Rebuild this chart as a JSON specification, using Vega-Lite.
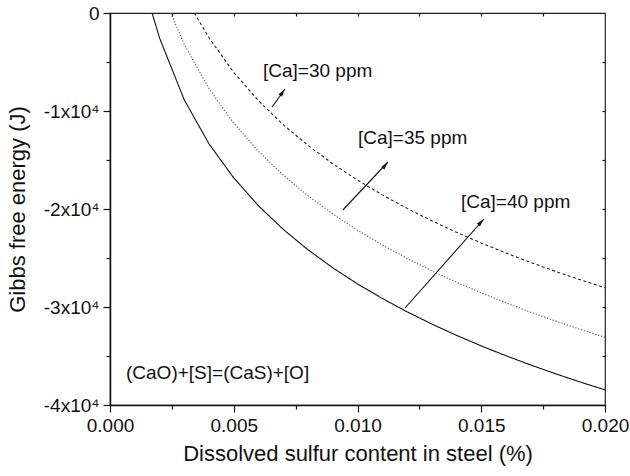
{
  "$schema": "https://vega.github.io/schema/vega-lite/v6.json",
  "width": 495,
  "height": 392,
  "autosize": "none",
  "padding": {"left": 110, "top": 13, "right": 25, "bottom": 71},
  "background": "white",
  "config": {
    "view": {"stroke": "#222", "strokeWidth": 1.2},
    "font": "Liberation Sans",
    "axis": {"grid": false, "labelFont": "Liberation Sans", "titleFont": "Liberation Sans", "labelColor": "#111", "titleColor": "#111", "domainColor": "#111", "tickColor": "#111", "labelFontSize": 19, "titleFontSize": 22, "titleFontWeight": "normal", "labelFlush": false, "labelOverlap": false, "domainWidth": 1.5, "tickWidth": 1.2}
  },
  "datasets": {
    "curves": [
      {"s": 0.0017, "g": 0, "ca": "40 ppm"},
      {"s": 0.002, "g": -2535, "ca": "40 ppm"},
      {"s": 0.003, "g": -8861, "ca": "40 ppm"},
      {"s": 0.004, "g": -13349, "ca": "40 ppm"},
      {"s": 0.005, "g": -16829, "ca": "40 ppm"},
      {"s": 0.006, "g": -19673, "ca": "40 ppm"},
      {"s": 0.007, "g": -22079, "ca": "40 ppm"},
      {"s": 0.008, "g": -24161, "ca": "40 ppm"},
      {"s": 0.009, "g": -25999, "ca": "40 ppm"},
      {"s": 0.010, "g": -27643, "ca": "40 ppm"},
      {"s": 0.011, "g": -29130, "ca": "40 ppm"},
      {"s": 0.012, "g": -30487, "ca": "40 ppm"},
      {"s": 0.013, "g": -31735, "ca": "40 ppm"},
      {"s": 0.014, "g": -32891, "ca": "40 ppm"},
      {"s": 0.015, "g": -33967, "ca": "40 ppm"},
      {"s": 0.016, "g": -34975, "ca": "40 ppm"},
      {"s": 0.017, "g": -35921, "ca": "40 ppm"},
      {"s": 0.018, "g": -36811, "ca": "40 ppm"},
      {"s": 0.019, "g": -37655, "ca": "40 ppm"},
      {"s": 0.020, "g": -38455, "ca": "40 ppm"},
      {"s": 0.00245, "g": 0, "ca": "35 ppm"},
      {"s": 0.003, "g": -3192, "ca": "35 ppm"},
      {"s": 0.004, "g": -7727, "ca": "35 ppm"},
      {"s": 0.005, "g": -11243, "ca": "35 ppm"},
      {"s": 0.006, "g": -14116, "ca": "35 ppm"},
      {"s": 0.007, "g": -16545, "ca": "35 ppm"},
      {"s": 0.008, "g": -18649, "ca": "35 ppm"},
      {"s": 0.009, "g": -20505, "ca": "35 ppm"},
      {"s": 0.010, "g": -22166, "ca": "35 ppm"},
      {"s": 0.011, "g": -23668, "ca": "35 ppm"},
      {"s": 0.012, "g": -25039, "ca": "35 ppm"},
      {"s": 0.013, "g": -26302, "ca": "35 ppm"},
      {"s": 0.014, "g": -27470, "ca": "35 ppm"},
      {"s": 0.015, "g": -28557, "ca": "35 ppm"},
      {"s": 0.016, "g": -29574, "ca": "35 ppm"},
      {"s": 0.017, "g": -30529, "ca": "35 ppm"},
      {"s": 0.018, "g": -31430, "ca": "35 ppm"},
      {"s": 0.019, "g": -32283, "ca": "35 ppm"},
      {"s": 0.020, "g": -33091, "ca": "35 ppm"},
      {"s": 0.00341, "g": 0, "ca": "30 ppm"},
      {"s": 0.004, "g": -2529, "ca": "30 ppm"},
      {"s": 0.005, "g": -6065, "ca": "30 ppm"},
      {"s": 0.006, "g": -8954, "ca": "30 ppm"},
      {"s": 0.007, "g": -11396, "ca": "30 ppm"},
      {"s": 0.008, "g": -13511, "ca": "30 ppm"},
      {"s": 0.009, "g": -15378, "ca": "30 ppm"},
      {"s": 0.010, "g": -17048, "ca": "30 ppm"},
      {"s": 0.011, "g": -18558, "ca": "30 ppm"},
      {"s": 0.012, "g": -19936, "ca": "30 ppm"},
      {"s": 0.013, "g": -21204, "ca": "30 ppm"},
      {"s": 0.014, "g": -22380, "ca": "30 ppm"},
      {"s": 0.015, "g": -23471, "ca": "30 ppm"},
      {"s": 0.016, "g": -24493, "ca": "30 ppm"},
      {"s": 0.017, "g": -25455, "ca": "30 ppm"},
      {"s": 0.018, "g": -26361, "ca": "30 ppm"},
      {"s": 0.019, "g": -27217, "ca": "30 ppm"},
      {"s": 0.020, "g": -28030, "ca": "30 ppm"}
    ],
    "arrows": [
      {"ca": "30 ppm", "x": 0.00655, "y": -9592, "x2": 0.00707, "y2": -7755},
      {"ca": "35 ppm", "x": 0.00941, "y": -20102, "x2": 0.01123, "y2": -15204},
      {"ca": "40 ppm", "x": 0.01192, "y": -30102, "x2": 0.01511, "y2": -21020}
    ],
    "labels": [
      {"x": 0.00618, "y": -5918, "text": "[Ca]=30 ppm"},
      {"x": 0.01002, "y": -12755, "text": "[Ca]=35 ppm"},
      {"x": 0.01418, "y": -19286, "text": "[Ca]=40 ppm"},
      {"x": 0.000646, "y": -36735, "text": "(CaO)+[S]=(CaS)+[O]"}
    ]
  },
  "resolve": {"axis": {"x": "independent", "y": "independent"}},
  "layer": [
    {
      "data": {"name": "curves"},
      "mark": {"type": "line", "strokeWidth": 1.1, "clip": true},
      "encoding": {
        "x": {"field": "s", "type": "quantitative", "scale": {"domain": [0, 0.02], "nice": false, "zero": false},
          "axis": {"orient": "bottom", "title": "Dissolved sulfur content in steel (%)",
            "values": [0, 0.0025, 0.005, 0.0075, 0.01, 0.0125, 0.015, 0.0175, 0.02],
            "labelExpr": "round(datum.value*400) % 2 == 0 ? format(datum.value, '.3f') : ''",
            "tickSize": {"condition": {"test": "round(datum.value*400) % 2 == 1", "value": 4}, "value": 7},
            "labelPadding": 4, "titlePadding": 8}},
        "y": {"field": "g", "type": "quantitative", "scale": {"domain": [-40000, 0], "nice": false, "zero": false},
          "axis": {"orient": "left", "title": "Gibbs free energy (J)",
            "values": [-40000, -35000, -30000, -25000, -20000, -15000, -10000, -5000, 0],
            "labelExpr": "datum.value == 0 ? '0' : (round(datum.value/5000) % 2 == 0 ? '-' + round(-datum.value/10000) + 'x10⁴' : '')",
            "tickSize": {"condition": {"test": "round(datum.value/5000) % 2 != 0", "value": 4}, "value": 7},
            "labelPadding": 4, "titlePadding": 14}},
        "color": {"field": "ca", "type": "nominal", "scale": {"domain": ["30 ppm", "35 ppm", "40 ppm"], "range": ["#222222", "#555555", "#111111"]}, "legend": null},
        "strokeDash": {"field": "ca", "type": "nominal", "scale": {"domain": ["30 ppm", "35 ppm", "40 ppm"], "range": [[3, 2.5], [1.2, 1.8], [1, 0]]}, "legend": null}
      }
    },
    {
      "data": {"name": "arrows"},
      "mark": {"type": "rule", "color": "#111", "strokeWidth": 1.1},
      "encoding": {
        "x": {"field": "x", "type": "quantitative", "axis": {"orient": "top", "labels": false, "title": null, "domain": false, "values": [0.0025, 0.005, 0.0075, 0.01, 0.0125, 0.015, 0.0175], "tickSize": -3}},
        "y": {"field": "y", "type": "quantitative", "axis": {"orient": "right", "labels": false, "title": null, "domain": false, "values": [-35000, -30000, -25000, -20000, -15000, -10000, -5000], "tickSize": -3}},
        "x2": {"field": "x2"},
        "y2": {"field": "y2"}
      }
    },
    {
      "data": {"name": "arrows"},
      "mark": {"type": "point", "filled": true, "color": "#111", "opacity": 1, "size": 36, "shape": "M0,0L0.7,2.7L-0.7,2.7Z"},
      "encoding": {
        "x": {"field": "x2", "type": "quantitative", "axis": null},
        "y": {"field": "y2", "type": "quantitative", "axis": null},
        "angle": {"field": "ca", "type": "ordinal", "scale": {"domain": ["30 ppm", "35 ppm", "40 ppm"], "range": [36, 43, 42]}, "legend": null}
      }
    },
    {
      "data": {"name": "labels"},
      "mark": {"type": "text", "align": "left", "baseline": "middle", "fontSize": 19, "font": "Liberation Sans", "color": "#111"},
      "encoding": {
        "x": {"field": "x", "type": "quantitative", "axis": null},
        "y": {"field": "y", "type": "quantitative", "axis": null},
        "text": {"field": "text"}
      }
    }
  ]
}
